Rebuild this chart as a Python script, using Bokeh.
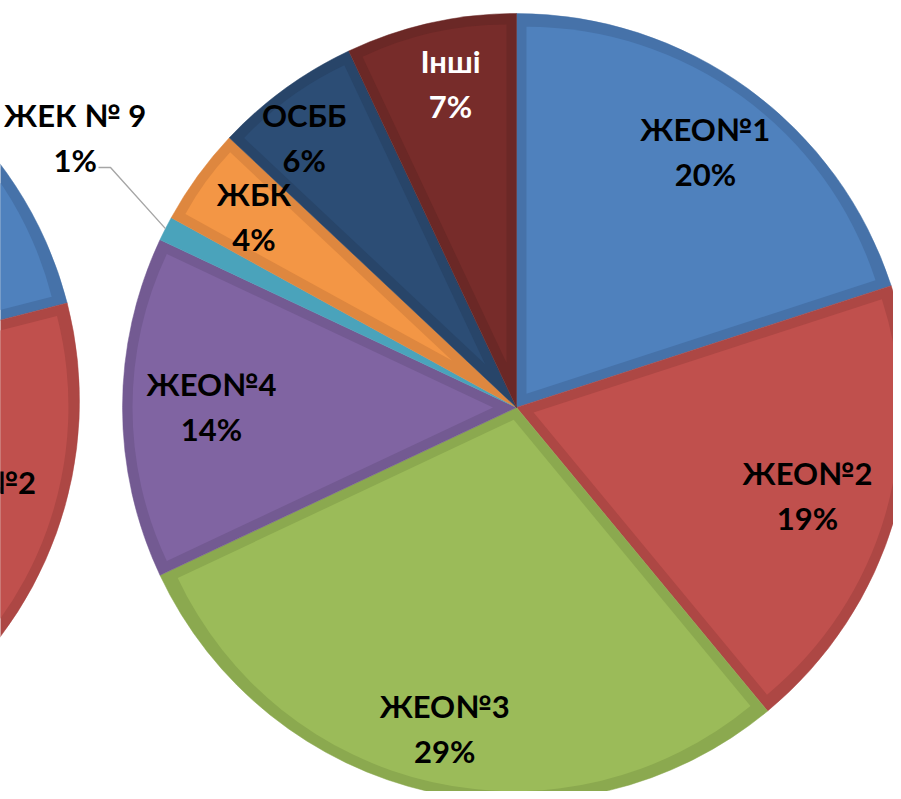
import numpy as np
from bokeh.plotting import figure
from bokeh.models import Range1d, ColumnDataSource
from bokeh.core.properties import value
from bokeh.embed import file_html
from bokeh.resources import INLINE

# ---------------- data ----------------
categories = ["ЖЕО№1", "ЖЕО№2", "ЖЕО№3", "ЖЕО№4", "ЖЕК № 9", "ЖБК", "ОСББ", "Інші"]
shares = [20, 19, 29, 14, 1, 4, 6, 7]
pct_labels = ["20%", "19%", "29%", "14%", "1%", "4%", "6%", "7%"]

# second (neighbouring) pie, only its first two slices are visible at the left edge
left_categories = ["ЖЕО№1", "ЖЕО№2", "ЖЕО№3", "ЖЕО№4", "ЖЕК № 9", "ЖБК", "ОСББ", "Інші"]
left_shares = [21, 19, 28, 14, 1, 4, 6, 7]

# ---------------- style ----------------
fill_colors = ["#4F81BD", "#C0504D", "#9BBB59", "#8064A2", "#4AA3BB", "#F39645", "#2C4D75", "#772C2A"]
edge_colors = ["#4672A9", "#AD4744", "#8BA94F", "#735A92", "#4AA3BB", "#DE873F", "#284569", "#6B2826"]
label_colors = ["#000000"] * 7 + ["#FFFFFF"]
label_r = [316, 305, 332, 305, 516, 323, 341, 328]
label_dang = [0.7, 1.2, -0.1, -0.4, 4.2, -0.4, -2.5, 1.0]

W, H = 893, 791
SCREEN_H = 799
FONT = "Lato"
FSIZE = "31px"
BASE_OFF = -3  # baseline offset (data units) relative to a text line's visual centre


def sy(y):
    return SCREEN_H - y


p = figure(width=W, height=H, output_backend="svg", toolbar_location=None,
           x_range=Range1d(0, W), y_range=Range1d(SCREEN_H - H, SCREEN_H),
           min_border=0)
p.axis.visible = False
p.grid.visible = False
p.outline_line_color = None
p.background_fill_color = "#FFFFFF"
p.border_fill_color = "#FFFFFF"


def draw_pie(cx, cy, R, vals, bevel=10):
    vals = np.array(vals, dtype=float)
    frac = vals / vals.sum()
    cum_end = np.cumsum(frac)
    cum_start = cum_end - frac
    start = np.pi / 2 - 2 * np.pi * cum_start
    end = np.pi / 2 - 2 * np.pi * cum_end
    src = ColumnDataSource(dict(x=[cx] * len(vals), y=[cy] * len(vals),
                                start=start, end=end,
                                color=edge_colors[:len(vals)]))
    p.wedge(x="x", y="y", radius=R, start_angle="start", end_angle="end",
            direction="clock", fill_color="color", line_color="color",
            line_width=0.5, source=src)
    # inner lighter part (bevel effect)
    ix, iy, ir, ist, ien, icol = [], [], [], [], [], []
    for i in range(len(vals)):
        h = np.pi * frac[i]
        phi = np.pi / 2 - 2 * np.pi * (cum_start[i] + frac[i] / 2)
        s = bevel / np.sin(h)
        r_in = R - bevel - s
        if frac[i] < 0.02 or r_in <= 0:
            continue
        ix.append(cx + s * np.cos(phi))
        iy.append(cy + s * np.sin(phi))
        ir.append(r_in)
        ist.append(start[i])
        ien.append(end[i])
        icol.append(fill_colors[i])
    src2 = ColumnDataSource(dict(x=ix, y=iy, r=ir, start=ist, end=ien, color=icol))
    p.wedge(x="x", y="y", radius="r", start_angle="start", end_angle="end",
            direction="clock", fill_color="color", line_color=None, source=src2)
    return cum_start, frac


# left (cut-off) pie
LCX, LCY, LR = -313, sy(400), 392
lcs, lfr = draw_pie(LCX, LCY, LR, left_shares)
bis = 2 * np.pi * (lcs[1] + lfr[1] / 2) + np.deg2rad(0.8)
lx = LCX + 303 * np.sin(bis)
ly = LCY + 303 * np.cos(bis)
p.text(x=[lx], y=[ly + 22.5 - BASE_OFF], text=[left_categories[1]],
       text_font=value(FONT), text_font_style="bold", text_font_size=FSIZE,
       text_align="center", text_baseline="alphabetic", text_color="#000000")

# main pie
CX, CY, R = 516, sy(407), 394
cs, fr = draw_pie(CX, CY, R, shares)

# leader line for the 1% slice
k = 4
bis_k = 2 * np.pi * (cs[k] + fr[k] / 2)
ex = CX + R * np.sin(bis_k)
ey = CY + R * np.cos(bis_k)
p.line(x=[ex, 110, 98], y=[ey, sy(167), sy(167)], line_color="#A6A6A6", line_width=1.4)

# labels
nx, ny, px, py = [], [], [], []
for i in range(len(shares)):
    ang = 2 * np.pi * (cs[i] + fr[i] / 2) + np.deg2rad(label_dang[i])
    x = CX + label_r[i] * np.sin(ang)
    y = CY + label_r[i] * np.cos(ang)
    nx.append(x)
    ny.append(y + 22.5 - BASE_OFF)
    px.append(x)
    py.append(y - 22.5 - BASE_OFF)

lab = ColumnDataSource(dict(nx=nx, ny=ny, px=px, py=py, name=categories,
                            pct=pct_labels, color=label_colors))
for xc, yc, tc in (("nx", "ny", "name"), ("px", "py", "pct")):
    p.text(x=xc, y=yc, text=tc, source=lab, text_font=value(FONT),
           text_font_style="bold", text_font_size=FSIZE, text_align="center",
           text_baseline="alphabetic", text_color="color")

open("out.html", "w").write(file_html(p, INLINE))
